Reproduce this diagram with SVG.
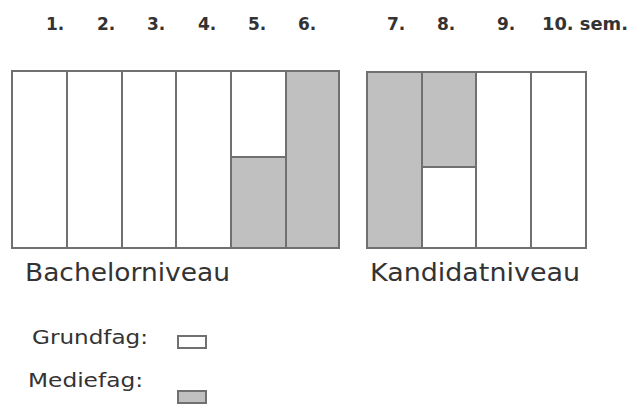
<svg xmlns="http://www.w3.org/2000/svg" width="637" height="405" viewBox="0 0 637 405">
<style>
.cell{fill:#ffffff;stroke:#707070;stroke-width:2}
.media{fill:#c0c0c0;stroke:#707070;stroke-width:2}
.num{font-family:"DejaVu Sans",Verdana,sans-serif;font-size:17px;font-weight:bold;fill:#333}
.lvl{font-family:"DejaVu Sans",Verdana,sans-serif;font-size:24px;fill:#333}
.leg{font-family:"DejaVu Sans",Verdana,sans-serif;font-size:19px;fill:#333}
</style>
<rect width="637" height="405" fill="#ffffff"/>
<g id="semesters">
<text class="num" x="46" y="30">1.</text>
<text class="num" x="97" y="30">2.</text>
<text class="num" x="147" y="30">3.</text>
<text class="num" x="198" y="30">4.</text>
<text class="num" x="248" y="30">5.</text>
<text class="num" x="298" y="30">6.</text>
<text class="num" x="387" y="30">7.</text>
<text class="num" x="437" y="30">8.</text>
<text class="num" x="497" y="30">9.</text>
<text class="num" x="542" y="30" textLength="86" lengthAdjust="spacingAndGlyphs">10. sem.</text>
</g>
<g id="bachelor">
<rect class="cell" x="12" y="71" width="55" height="177"/>
<rect class="cell" x="67" y="71" width="55" height="177"/>
<rect class="cell" x="122" y="71" width="54" height="177"/>
<rect class="cell" x="176" y="71" width="55" height="177"/>
<rect class="cell" x="231" y="71" width="55" height="86"/>
<rect class="media" x="231" y="157" width="55" height="91"/>
<rect class="media" x="286" y="71" width="53" height="177"/>
<text class="lvl" x="25" y="281" textLength="205" lengthAdjust="spacingAndGlyphs">Bachelorniveau</text>
</g>
<g id="kandidat">
<rect class="media" x="367" y="72" width="55" height="176"/>
<rect class="media" x="422" y="72" width="54" height="95"/>
<rect class="cell" x="422" y="167" width="54" height="81"/>
<rect class="cell" x="476" y="72" width="55" height="176"/>
<rect class="cell" x="531" y="72" width="55" height="176"/>
<text class="lvl" x="370" y="281" textLength="210" lengthAdjust="spacingAndGlyphs">Kandidatniveau</text>
</g>
<g id="legend-grundfag">
<text class="leg" x="32" y="344" textLength="116" lengthAdjust="spacingAndGlyphs">Grundfag:</text>
<rect class="cell" x="178" y="336" width="28" height="12"/>
</g>
<g id="legend-mediefag">
<text class="leg" x="28" y="387" textLength="115" lengthAdjust="spacingAndGlyphs">Mediefag:</text>
<rect class="media" x="178" y="391" width="28" height="12"/>
</g>
<g id="connectors"></g>
</svg>
